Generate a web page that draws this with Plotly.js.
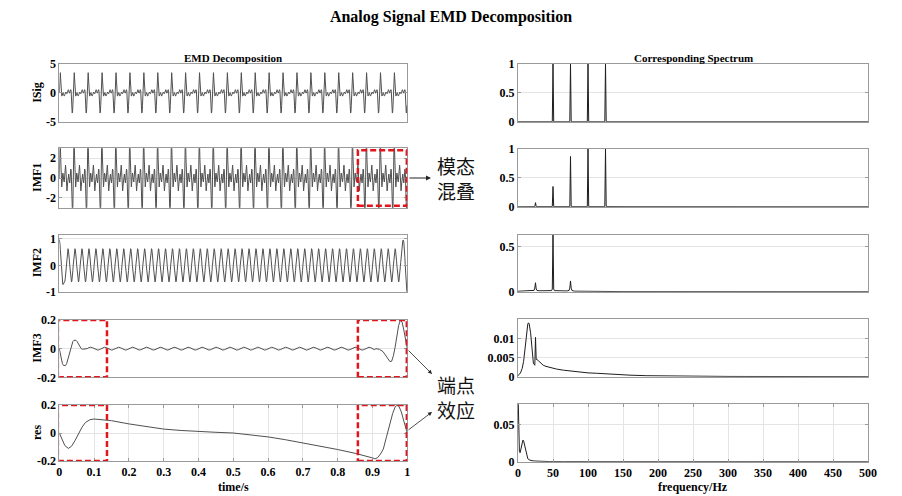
<!DOCTYPE html>
<html><head><meta charset="utf-8">
<script src="https://cdn.plot.ly/plotly-3.0.1.min.js"></script>
<style>html,body{margin:0;padding:0;background:#fff}#chart{width:902px;height:496px}</style>
</head><body><div id="chart"></div>
<script>
// ---------------- data ----------------
const sampleStep = 0.001; // s, sampling grid of the time signals

// one 0.04 s period of the composite signal (repeats 25 times in the picture)
const sigCycle = [0, 2.2, 3.4, 3.5, 2.4, 0.8, -0.3, -0.55, -0.5, -0.25, 0.0, 0.05, -0.12, -0.4, -0.55, -0.5, -0.3, -0.03, 0.15, 0.14,
                  0, -0.14, -0.15, 0.03, 0.3, 0.5, 0.55, 0.4, 0.12, -0.05, 0, 0.25, 0.5, 0.55, 0.3, -0.8, -2.4, -3.5, -3.35, -2.2];
const sigCycles = 25;

// one 0.04 s period of IMF1 (spikes run past the ±3 axis limits)
const imf1Cycle = [0, 2.9, 3.8, 3.6, 2.0, 0.2, -0.8, -0.9, -0.5, 0.1, 0.5, 0.4, 0.0, -0.4, -0.4, 0.0, 0.5, 0.9, 1.3, 0.8,
                   0, -0.8, -1.3, -0.9, -0.5, 0.0, 0.4, 0.4, 0.0, -0.4, -0.5, -0.1, 0.5, 0.9, 0.8, -0.2, -2.0, -3.6, -3.8, -2.9];
const imf1Cycles = 25;

// one 0.02 s period of IMF2 (50 periods), plus the distorted first / last samples
const imf2Cycle = [0, 0.195, 0.37, 0.51, 0.6, 0.63, 0.6, 0.51, 0.37, 0.195, 0, -0.195, -0.37, -0.51, -0.6, -0.63, -0.6, -0.51, -0.37, -0.195];
const imf2Cycles = 50;
const imf2Head = [0.98, 0.93, 0.8, 0.6, 0.36, 0.1, -0.16, -0.38, -0.55, -0.66, -0.72, -0.73, -0.71, -0.67, -0.64];
const imf2Tail = [-0.05, 0.1, 0.28, 0.46, 0.62, 0.76, 0.86, 0.93, 0.96, 0.95, 0.88, 0.75, 0.55, 0.3, 0.02, -0.25, -0.5, -0.72, -0.9, -1.05];

// IMF3: end effects at both ends, small 25 Hz ripple in between
const imf3HeadT = [0, 0.003, 0.006, 0.009, 0.012, 0.015, 0.018, 0.021, 0.024, 0.027, 0.030, 0.033, 0.036, 0.039, 0.042, 0.045, 0.048, 0.051, 0.054, 0.057, 0.060, 0.063, 0.066, 0.070, 0.075];
const imf3HeadV = [0, -0.04, -0.08, -0.105, -0.117, -0.12, -0.118, -0.105, -0.08, -0.05, -0.02, 0.01, 0.035, 0.05, 0.058, 0.06, 0.058, 0.05, 0.035, 0.02, 0.008, 0.0, -0.004, -0.004, 0];
const imf3Ripple = [0, 0.007, 0.01, 0.007, 0, -0.007, -0.01, -0.007]; // one 0.04 s period, 5 ms steps
const imf3RippleStart = 0.08, imf3RippleEnd = 0.905, imf3RippleStep = 0.005;
const imf3TailT = [0.91, 0.92, 0.93, 0.94, 0.945, 0.95, 0.955, 0.96, 0.965, 0.97, 0.975, 0.98, 0.985, 0.99, 0.995, 1.0];
const imf3TailV = [0, -0.005, -0.02, -0.055, -0.075, -0.09, -0.088, -0.05, 0.01, 0.09, 0.16, 0.198, 0.185, 0.13, 0.06, 0];

// residue
const resT = [0, 0.008, 0.016, 0.026, 0.035, 0.045, 0.055, 0.065, 0.075, 0.088, 0.1, 0.12, 0.15, 0.2, 0.25, 0.3, 0.35, 0.4, 0.45, 0.5,
              0.55, 0.6, 0.65, 0.7, 0.75, 0.8, 0.85, 0.88, 0.9, 0.907, 0.915, 0.923, 0.931, 0.94, 0.95, 0.958, 0.965, 0.97, 0.976, 0.983, 0.99, 0.995, 1.0];
const resV = [0, -0.05, -0.09, -0.11, -0.095, -0.055, -0.005, 0.04, 0.075, 0.095, 0.1, 0.097, 0.088, 0.065, 0.045, 0.028, 0.018, 0.01, 0.005, 0.0,
              -0.012, -0.028, -0.048, -0.07, -0.093, -0.118, -0.145, -0.162, -0.178, -0.185, -0.175, -0.15, -0.115, -0.03, 0.065, 0.14, 0.185, 0.198, 0.19, 0.15, 0.085, 0.04, 0.0];

// spectra (frequency in Hz, normalised amplitude)
const sigSpecF = [0, 49, 50, 51, 74, 75, 76, 99, 100, 101, 124, 125, 126, 500];
const sigSpecA = [0, 0, 1, 0, 0, 1, 0, 0, 1, 0, 0, 1, 0, 0];
const imf1SpecF = [0, 24, 25, 26, 49, 50, 51, 74, 75, 76, 99, 100, 101, 124, 125, 126, 160, 500];
const imf1SpecA = [0, 0.002, 0.07, 0.002, 0.002, 0.35, 0.002, 0.002, 0.87, 0.002, 0.002, 1.0, 0.002, 0.002, 1.0, 0.003, 0.001, 0];
const imf2SpecF = [0, 20, 23, 24, 25, 26, 27, 30, 48, 49, 50, 51, 52, 70, 73, 74, 75, 76, 77, 80, 150, 500];
const imf2SpecA = [0.005, 0.008, 0.015, 0.04, 0.1, 0.03, 0.015, 0.01, 0.012, 0.03, 0.66, 0.03, 0.012, 0.008, 0.015, 0.04, 0.12, 0.04, 0.015, 0.006, 0.001, 0];
const imf3SpecF = [0, 2, 4, 6, 8, 10, 12, 14, 15, 16, 18, 20, 22, 24, 25, 26, 27, 29, 32, 36, 40, 46, 55, 65, 77, 89, 100, 112, 124, 136, 150, 160, 184, 210, 231, 260, 300, 327, 400, 500];
const imf3SpecA = [0.0003, 0.0006, 0.0012, 0.0022, 0.004, 0.0075, 0.0108, 0.0138, 0.0141, 0.0138, 0.0115, 0.008, 0.0035, 0.003, 0.0103, 0.0045, 0.0045, 0.0042, 0.0036, 0.003, 0.0027, 0.0024, 0.002, 0.0017, 0.0014, 0.0012, 0.001, 0.0009, 0.00075, 0.0006, 0.0005, 0.0004, 0.00026, 0.00018, 0.00013, 0.0001, 0.00007, 0.00006, 0.00004, 0.00002];
const resSpecF = [0, 1, 2, 3, 4, 5, 6, 7, 8, 9, 10, 11, 12, 13, 14, 16, 18, 20, 24, 30, 36, 45, 65, 100, 500];
const resSpecA = [0.095, 0.045, 0.014, 0.012, 0.016, 0.022, 0.027, 0.029, 0.028, 0.024, 0.018, 0.013, 0.008, 0.0055, 0.004, 0.0025, 0.0018, 0.0013, 0.0009, 0.0006, 0.0004, 0.0002, 0.0001, 0.00005, 0];

// tick labels
const timeTicks = [0, 0.1, 0.2, 0.3, 0.4, 0.5, 0.6, 0.7, 0.8, 0.9, 1];
const timeTickText = ['0', '0.1', '0.2', '0.3', '0.4', '0.5', '0.6', '0.7', '0.8', '0.9', '1'];
const freqTicks = [0, 50, 100, 150, 200, 250, 300, 350, 400, 450, 500];
const freqTickText = ['0', '50', '100', '150', '200', '250', '300', '350', '400', '450', '500'];
const sigTicks = [-5, 0, 5], sigTickText = ['-5', '0', '5'];
const imf1Ticks = [-2, 0, 2], imf1TickText = ['-2', '0', '2'];
const imf2Ticks = [-1, 0, 1], imf2TickText = ['-1', '0', '1'];
const imf3Ticks = [-0.2, 0, 0.2], imf3TickText = ['-0.2', '0', '0.2'];
const resTicks = [-0.2, 0, 0.2], resTickText = ['-0.2', '0', '0.2'];
const spec1Ticks = [0, 0.5, 1], spec1TickText = ['0', '0.5', '1'];
const spec3Ticks = [0, 0.5], spec3TickText = ['0', '0.5'];
const spec4Ticks = [0, 0.005, 0.01], spec4TickText = ['0', '0.005', '0.01'];
const spec5Ticks = [0, 0.05], spec5TickText = ['0', '0.05'];
const rowLabels = ['ISig', 'IMF1', 'IMF2', 'IMF3', 'res'];

// ---------------- build series ----------------
function tile(cycle, n) { const out = []; for (let i = 0; i < n; i++) out.push(...cycle); return out; }
function grid(n) { const t = []; for (let k = 0; k < n; k++) t.push(+(k * sampleStep).toFixed(4)); return t; }
const sigY = tile(sigCycle, sigCycles);
const imf1Y = tile(imf1Cycle, imf1Cycles);
const imf2Y = tile(imf2Cycle, imf2Cycles);
imf2Head.forEach((v, i) => { imf2Y[i] = v; });
imf2Tail.forEach((v, i) => { imf2Y[imf2Y.length - imf2Tail.length + i] = v; });
const imf3T = [...imf3HeadT], imf3V = [...imf3HeadV];
for (let k = 0, t = imf3RippleStart; t <= imf3RippleEnd + 1e-9; k++, t += imf3RippleStep) {
  imf3T.push(+t.toFixed(4)); imf3V.push(imf3Ripple[k % imf3Ripple.length]);
}
imf3T.push(...imf3TailT); imf3V.push(...imf3TailV);

// ---------------- layout ----------------
const W = 902, H = 496;
const px = x => x / W, py = y => 1 - y / H;
const colL = [59.3, 407.3], colR = [518, 868];
const rowsL = [[64, 121.7], [148.3, 207.7], [235, 291.7], [320, 377.3], [405, 461]];
const rowsR = [[64, 121.7], [149, 206.7], [235, 291.7], [319, 376.7], [404.3, 461.7]];
const tickFont = { family: 'Liberation Serif', size: 12, color: '#000', weight: 'bold' };
const boxColor = '#9a9a9a', gridColor = '#e4e4e4';
const timeColor = '#505050', specColor = '#1e1e1e';

const leftSeries = [[grid(sigY.length), sigY], [grid(imf1Y.length), imf1Y], [grid(imf2Y.length), imf2Y], [imf3T, imf3V], [resT, resV]];
const rightSeries = [[sigSpecF, sigSpecA], [imf1SpecF, imf1SpecA], [imf2SpecF, imf2SpecA], [imf3SpecF, imf3SpecA], [resSpecF, resSpecA]];
const leftY = [[[-5, 5], sigTicks, sigTickText], [[-3, 3], imf1Ticks, imf1TickText], [[-1, 1.15], imf2Ticks, imf2TickText], [[-0.2, 0.2], imf3Ticks, imf3TickText], [[-0.2, 0.2], resTicks, resTickText]];
const rightY = [[[0, 1], spec1Ticks, spec1TickText], [[0, 1], spec1Ticks, spec1TickText], [[0, 0.633], spec3Ticks, spec3TickText], [[0, 0.0151], spec4Ticks, spec4TickText], [[0, 0.077], spec5Ticks, spec5TickText]];

const data = [];
const layout = {
  width: W, height: H, margin: { l: 0, r: 0, t: 0, b: 0 },
  paper_bgcolor: '#fff', plot_bgcolor: '#fff', showlegend: false,
  title: { text: 'Analog Signal EMD Decomposition', x: 0.5, xanchor: 'center', y: py(16), yanchor: 'middle',
           font: { family: 'Liberation Serif', size: 16, color: '#000', weight: 'bold' } },
  annotations: [], shapes: []
};

function addPanel(idx, col, row, series, yInfo, isBottom, xRange, xTicks, xTickText, color) {
  const sx = idx === 1 ? '' : String(idx);
  data.push({ type: 'scatter', mode: 'lines', x: series[0], y: series[1], xaxis: 'x' + sx, yaxis: 'y' + sx,
              line: { color: color, width: 1 }, hoverinfo: 'skip' });
  layout['xaxis' + sx] = {
    domain: [px(col[0]), px(col[1])], anchor: 'y' + sx, range: xRange,
    showline: true, linecolor: boxColor, linewidth: 1, mirror: isBottom ? 'ticks' : true,
    ticks: isBottom ? 'inside' : '', ticklen: 3, tickcolor: boxColor,
    tickvals: xTicks, ticktext: xTickText, showticklabels: isBottom,
    showgrid: isBottom, gridcolor: gridColor, zeroline: false, tickfont: tickFont, fixedrange: true
  };
  layout['yaxis' + sx] = {
    domain: [py(row[1]), py(row[0])], anchor: 'x' + sx, range: yInfo[0],
    showline: true, linecolor: boxColor, linewidth: 1, mirror: 'ticks',
    ticks: 'inside', ticklen: 3, tickcolor: boxColor,
    tickvals: yInfo[1], ticktext: yInfo[2], showgrid: true, gridcolor: gridColor, zeroline: false,
    tickfont: tickFont, fixedrange: true
  };
}

for (let r = 0; r < 5; r++) {
  addPanel(r + 1, colL, rowsL[r], leftSeries[r], leftY[r], r === 4, [0, 1], timeTicks, timeTickText, timeColor);
  addPanel(r + 6, colR, rowsR[r], rightSeries[r], rightY[r], r === 4, [0, 500], freqTicks, freqTickText, specColor);
  layout.annotations.push({ xref: 'paper', yref: 'paper', x: px(37), y: py((rowsL[r][0] + rowsL[r][1]) / 2),
    text: rowLabels[r], showarrow: false, textangle: -90, xanchor: 'center', yanchor: 'middle',
    font: { family: 'Liberation Serif', size: 12, color: '#000', weight: 'bold' } });
}

const subFont = { family: 'Liberation Serif', size: 11, color: '#000', weight: 'bold' };
layout.annotations.push(
  { xref: 'paper', yref: 'paper', x: px(233.3), y: py(58.5), text: 'EMD Decomposition', showarrow: false, xanchor: 'center', yanchor: 'middle', font: subFont },
  { xref: 'paper', yref: 'paper', x: px(693), y: py(58.5), text: 'Corresponding Spectrum', showarrow: false, xanchor: 'center', yanchor: 'middle', font: subFont },
  { xref: 'paper', yref: 'paper', x: px(233.3), y: py(487), text: 'time/s', showarrow: false, xanchor: 'center', yanchor: 'middle', font: { ...subFont, size: 12 } },
  { xref: 'paper', yref: 'paper', x: px(693), y: py(487), text: 'frequency/Hz', showarrow: false, xanchor: 'center', yanchor: 'middle', font: { ...subFont, size: 12 } }
);

// callouts
const cjkFont = { family: 'Noto Sans CJK SC', size: 19, color: '#111' };
layout.annotations.push(
  { xref: 'paper', yref: 'paper', x: px(456), y: py(178), text: '模态<br>混叠', showarrow: false, xanchor: 'center', yanchor: 'middle', font: cjkFont },
  { xref: 'paper', yref: 'paper', x: px(456), y: py(396.5), text: '端点<br>效应', showarrow: false, xanchor: 'center', yanchor: 'middle', font: cjkFont },
  { xref: 'paper', yref: 'paper', x: px(431), y: py(178), text: '', showarrow: true, ax: -23, ay: 0, arrowhead: 2, arrowsize: 1, arrowwidth: 1, arrowcolor: '#222', standoff: 0 },
  { xref: 'paper', yref: 'paper', x: px(432), y: py(374), text: '', showarrow: true, ax: -25, ay: -25, arrowhead: 2, arrowsize: 1, arrowwidth: 0.8, arrowcolor: '#222', standoff: 0 },
  { xref: 'paper', yref: 'paper', x: px(432), y: py(412), text: '', showarrow: true, ax: -25, ay: 19, arrowhead: 2, arrowsize: 1, arrowwidth: 0.8, arrowcolor: '#222', standoff: 0 }
);

const redBox = { type: 'rect', line: { color: '#e3151c', width: 2.5, dash: '6px,3px' }, fillcolor: 'rgba(0,0,0,0)' };
layout.shapes.push(
  { ...redBox, xref: 'x2', yref: 'y2', x0: 0.858, x1: 0.9986, y0: -2.8, y1: 2.8 },
  { ...redBox, xref: 'x4', yref: 'y4', x0: -0.004, x1: 0.137, y0: -0.2, y1: 0.2 },
  { ...redBox, xref: 'x4', yref: 'y4', x0: 0.858, x1: 0.9986, y0: -0.2, y1: 0.2 },
  { ...redBox, xref: 'x5', yref: 'y5', x0: -0.004, x1: 0.137, y0: -0.2, y1: 0.2 },
  { ...redBox, xref: 'x5', yref: 'y5', x0: 0.858, x1: 0.9986, y0: -0.2, y1: 0.2 }
);

Plotly.newPlot('chart', data, layout, { staticPlot: true, displayModeBar: false });
</script></body></html>
